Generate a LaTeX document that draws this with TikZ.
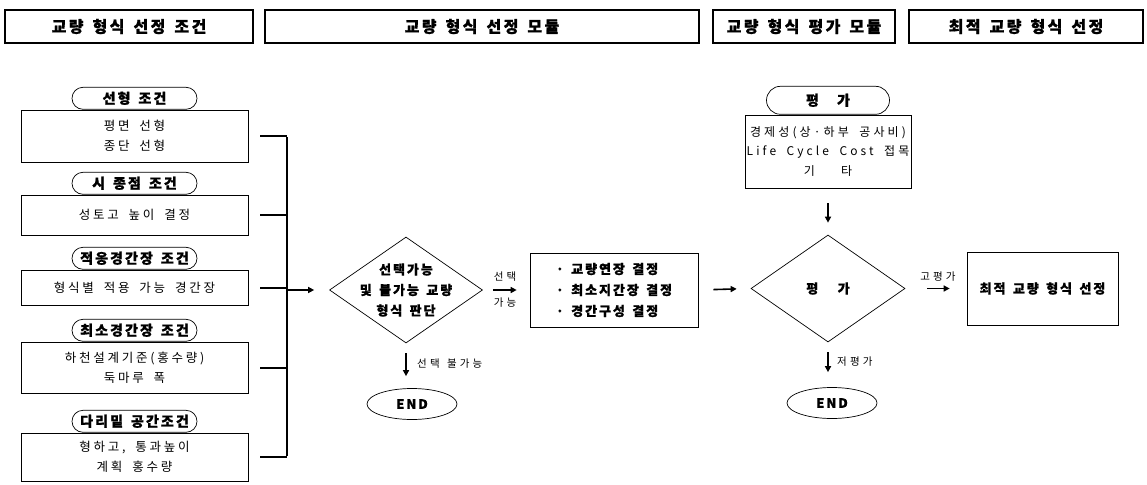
\documentclass[tikz,border=0pt]{standalone}
\usepackage{fontspec}
\setmainfont{Noto Sans CJK KR}
\newfontfamily\kr{Noto Sans CJK KR}[LetterSpace=15,WordSpace=1.5,BoldFeatures={FakeBold=1}]
\newfontfamily\krw{Noto Sans CJK KR}[LetterSpace=22,WordSpace=1.8]
\newfontfamily\krm{Noto Sans CJK KR}[LetterSpace=26,WordSpace=1.8]
\newfontfamily\krl{Noto Sans CJK KR}[LetterSpace=30,WordSpace=2]
\usetikzlibrary{shapes.geometric,shapes.misc,arrows.meta}
\begin{document}
\begin{tikzpicture}[x=1pt,y=-1pt,
  hdr/.style={draw,line width=1.1pt,inner sep=0pt,minimum height=33pt,font=\kr\bfseries\fontsize{16}{18}\selectfont},
  pill/.style={draw,fill=white,rounded rectangle,line width=0.7pt,minimum width=125pt,minimum height=22pt,inner sep=0pt,font=\kr\bfseries\fontsize{14}{16}\selectfont},
  cbox/.style={draw,line width=0.7pt,minimum width=227pt,inner sep=0pt,align=center,font=\krw\fontsize{12.5}{20.5}\selectfont},
  fbox/.style={draw,line width=0.7pt,inner sep=0pt,align=center},
  dia/.style={draw,diamond,line width=0.7pt,inner sep=0pt},
  endnode/.style={draw,ellipse,line width=0.7pt,minimum width=90pt,minimum height=31pt,inner sep=0pt,font=\kr\bfseries\fontsize{13}{15}\selectfont},
  bold/.style={font=\kr\bfseries\fontsize{13}{20.5}\selectfont,align=center},
  lbl/.style={font=\krl\fontsize{10.5}{12}\selectfont,inner sep=0pt},
  conn/.style={line width=2pt},
  arr/.style={line width=1.6pt,-{Triangle[length=6pt,width=6pt]}}
]
\useasboundingbox (0,0) rectangle (1147,484);
% headers
\node[hdr,minimum width=248pt] (h1) at (129,26.5) {교량 형식 선정 조건};
\node[hdr,minimum width=434pt] (h2) at (482,26.5) {교량 형식 선정 모듈};
\node[hdr,minimum width=182pt] (h3) at (804,26.5) {교량 형식 평가 모듈};
\node[hdr,minimum width=234pt] (h4) at (1026,26.5) {최적 교량 형식 선정};
% left condition boxes
\node[cbox,minimum height=52pt] (b1) at (134.5,136) {평면 선형\\종단 선형};
\node[cbox,minimum height=40pt] (b2) at (134.5,215) {성토고 높이 결정};
\node[cbox,minimum height=35pt] (b3) at (134.5,287.5) {형식별 적용 가능 경간장};
\node[cbox,minimum height=51pt] (b4) at (134.5,367.5) {하천설계기준(홍수량)\\둑마루 폭};
\node[cbox,minimum height=48pt] (b5) at (134.5,457) {형하고, 통과높이\\계획 홍수량};
\node[pill,anchor=south] (p1) at (b1.north) {선형 조건};
\node[pill,anchor=south] (p2) at (b2.north) {시 종점 조건};
\node[pill,anchor=south] (p3) at (b3.north) {적응경간장 조건};
\node[pill,anchor=south] (p4) at (b4.north) {최소경간장 조건};
\node[pill,anchor=south] (p5) at (b5.north) {다리밑 공간조건};
% bracket
\coordinate (vx) at (287,290);
\foreach \b in {b1,b2,b3,b4,b5}{
  \draw[conn] ([xshift=12pt]\b.east) -- (\b.east -| vx);
}
\draw[conn] ([yshift=-1pt]b1.east -| vx) -- ([yshift=1pt]b5.east -| vx);
% diamond 1
\node[dia,minimum width=153pt,minimum height=106pt] (d1) at (406,290) {};
\node[bold] (d1t) at (d1.center) {선택가능\\및 불가능 교량\\형식 판단};
\draw[arr,shorten >=15pt] (vx) -- (d1.west);
% bullets box
\node[fbox,minimum width=168pt,minimum height=74pt,font=\kr\bfseries\fontsize{13}{21}\selectfont,align=left] (b6) at (614,290) {· 교량연장 결정\\· 최소지간장 결정\\· 경간구성 결정};
\draw[arr,shorten <=10pt,shorten >=13pt] (d1.east) -- (b6.west);
\node[lbl] (l1) at (505,277) {선택};
\node[lbl] (l2) at (505,303) {가능};
% END 1
\node[endnode] (e1) at (412,404) {END};
\draw[arr,shorten <=10pt,shorten >=12pt] (d1.south) -- (d1.south |- e1.north);
\node[lbl,anchor=west] (l3) at (417,364) {선택\hspace{0.7em}불가능};
% evaluation box
\node[fbox,minimum width=166pt,minimum height=73pt,font=\krm\fontsize{12}{19.5}\selectfont] (b7) at (828,151.5) {경제성(상·하부 공사비)\\Life Cycle Cost 접목\\기\hspace{2.2em}타};
\node[pill,anchor=south,minimum width=123pt,minimum height=28pt] (p7) at (b7.north) {평\hspace{1.3em}가};
% diamond 2
\node[dia,minimum width=154pt,minimum height=107pt] (d2) at (828,288.5) {};
\node[bold] (d2t) at (d2.center) {평\hspace{1.5em}가};
\draw[arr,shorten <=15pt,shorten >=14pt] (b6.east) -- (d2.west);
\draw[arr,shorten <=15pt,shorten >=12pt] (b7.south) -- (d2.north);
% final box
\node[fbox,minimum width=151pt,minimum height=73pt,font=\kr\bfseries\fontsize{13}{15}\selectfont] (b8) at (1042.5,288.5) {최적 교량 형식 선정};
\draw[arr,shorten <=22pt,shorten >=17pt] (d2.east) -- (d2.east -| b8.west);
\node[lbl] (l4) at (938,277) {고평가};
% END 2
\node[endnode] (e2) at (832,403) {END};
\draw[arr,shorten <=10pt,shorten >=15pt] (d2.south) -- (d2.south |- e2.north);
\node[lbl,anchor=west] (l5) at (837,362) {저평가};
\end{tikzpicture}
\end{document}
